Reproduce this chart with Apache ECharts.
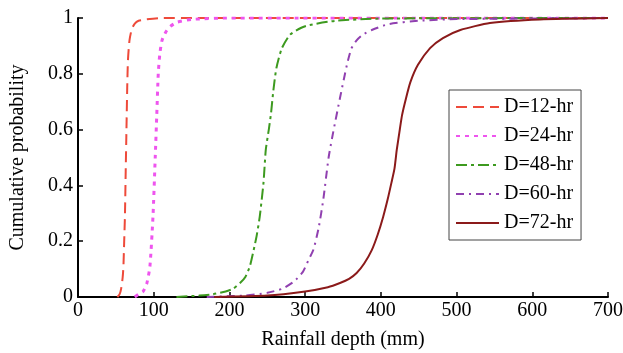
<!DOCTYPE html>
<html>
<head>
<meta charset="utf-8">
<script src="https://cdn.jsdelivr.net/npm/echarts@6/dist/echarts.min.js"></script>
<style>html,body{margin:0;padding:0;background:#fff;}#c{width:623px;height:353px;}</style>
</head>
<body>
<div id="c"></div>
<script>
const seriesNames = ['D=12-hr','D=24-hr','D=48-hr','D=60-hr','D=72-hr'];
const xTicks = [0,100,200,300,400,500,600,700];
const yTicks = [0,0.2,0.4,0.6,0.8,1];

const x12 = [52,55,57,59,60,61,62,63,64,65,66,68,71,75,80,90,110,700];
const y12 = [0,0.01,0.03,0.07,0.11,0.2,0.29,0.45,0.6,0.75,0.85,0.92,0.96,0.98,0.99,0.995,1,1];

const x24 = [75,80,86,91,95,99,102,104,106,108,111,116,122,131,150,200,700];
const y24 = [0,0.01,0.02,0.05,0.11,0.287,0.5,0.65,0.8,0.87,0.92,0.95,0.97,0.985,0.995,1,1];

const x48 = [130,160,178,195,205,214,221,227,232,236,240,245,248,252,255,258,262,269,280,295,306,340,400,700];
const y48 = [0,0.005,0.01,0.02,0.03,0.05,0.072,0.11,0.168,0.22,0.287,0.41,0.527,0.6,0.66,0.74,0.82,0.89,0.94,0.965,0.975,0.99,0.998,1];

const x60 = [170,220,250,270,285,297,304,311,318,324,331,337,346,355,361,368,376,388,410,450,500,700];
const y60 = [0,0.005,0.015,0.03,0.055,0.09,0.13,0.17,0.25,0.35,0.5,0.59,0.713,0.83,0.89,0.92,0.94,0.957,0.978,0.99,0.996,1];

const x72 = [180,250,300,330,346,358,368,378,388,396,403,409,414,418,421,425,428,433,439,449,465,482,505,544,610,700];
const y72 = [0,0.005,0.02,0.035,0.05,0.065,0.086,0.12,0.168,0.225,0.287,0.35,0.41,0.46,0.527,0.6,0.652,0.71,0.77,0.832,0.892,0.928,0.957,0.982,0.995,1];

const xs = [x12,x24,x48,x60,x72];
const ys = [y12,y24,y48,y60,y72];
const colors = ['#ee4a3a','#ee55ee','#3d9a1f','#9040b0','#8b1a1a'];
const dashes = [[11,6],[4,5],[11,4,3,4],[8,5,2,5],'solid'];
const widths = [2,3,2,2,2];

const font = 'Liberation Serif, Times New Roman, serif';
const chart = echarts.init(document.getElementById('c'));
chart.setOption({
  animation:false,
  backgroundColor:'#fff',
  grid:{left:78,right:15,top:18,bottom:56,outerBoundsMode:'none',containLabel:false},
  legend:{
    orient:'vertical', left:449, top:90,
    data: seriesNames,
    backgroundColor:'#fff',
    borderColor:'#444', borderWidth:1,
    padding:[7,8,7,6],
    itemWidth:43, itemHeight:14, itemGap:9,
    itemStyle:{opacity:0},
    textStyle:{fontFamily:font,fontSize:20,color:'#000',lineHeight:20}
  },
  xAxis:{
    type:'value', min:0, max:700, interval:100,
    name:'Rainfall depth (mm)', nameLocation:'middle', nameGap:33,
    nameTextStyle:{fontFamily:font,fontSize:20,color:'#000'},
    axisLine:{lineStyle:{color:'#000',width:2}},
    axisTick:{inside:true,length:5,lineStyle:{color:'#000',width:1.5}},
    axisLabel:{fontFamily:font,fontSize:20,color:'#000',margin:4},
    splitLine:{show:false}
  },
  yAxis:{
    type:'value', min:0, max:1, interval:0.2,
    name:'Cumulative probability', nameLocation:'middle', nameGap:50,
    nameTextStyle:{fontFamily:font,fontSize:20,color:'#000'},
    axisLine:{show:true,lineStyle:{color:'#000',width:2}},
    axisTick:{show:true,inside:true,length:5,lineStyle:{color:'#000',width:1.5}},
    axisLabel:{fontFamily:font,fontSize:20,color:'#000',margin:5,formatter:v=>String(+v.toFixed(1))},
    splitLine:{show:false}
  },
  series: seriesNames.map((n,i)=>({
    name:n, type:'line', showSymbol:false, symbol:'none', smooth:0.2,
    color:colors[i],
    lineStyle:{color:colors[i],width:widths[i],type:dashes[i]},
    data: xs[i].map((x,k)=>[x,ys[i][k]])
  }))
});
</script>
</body>
</html>
